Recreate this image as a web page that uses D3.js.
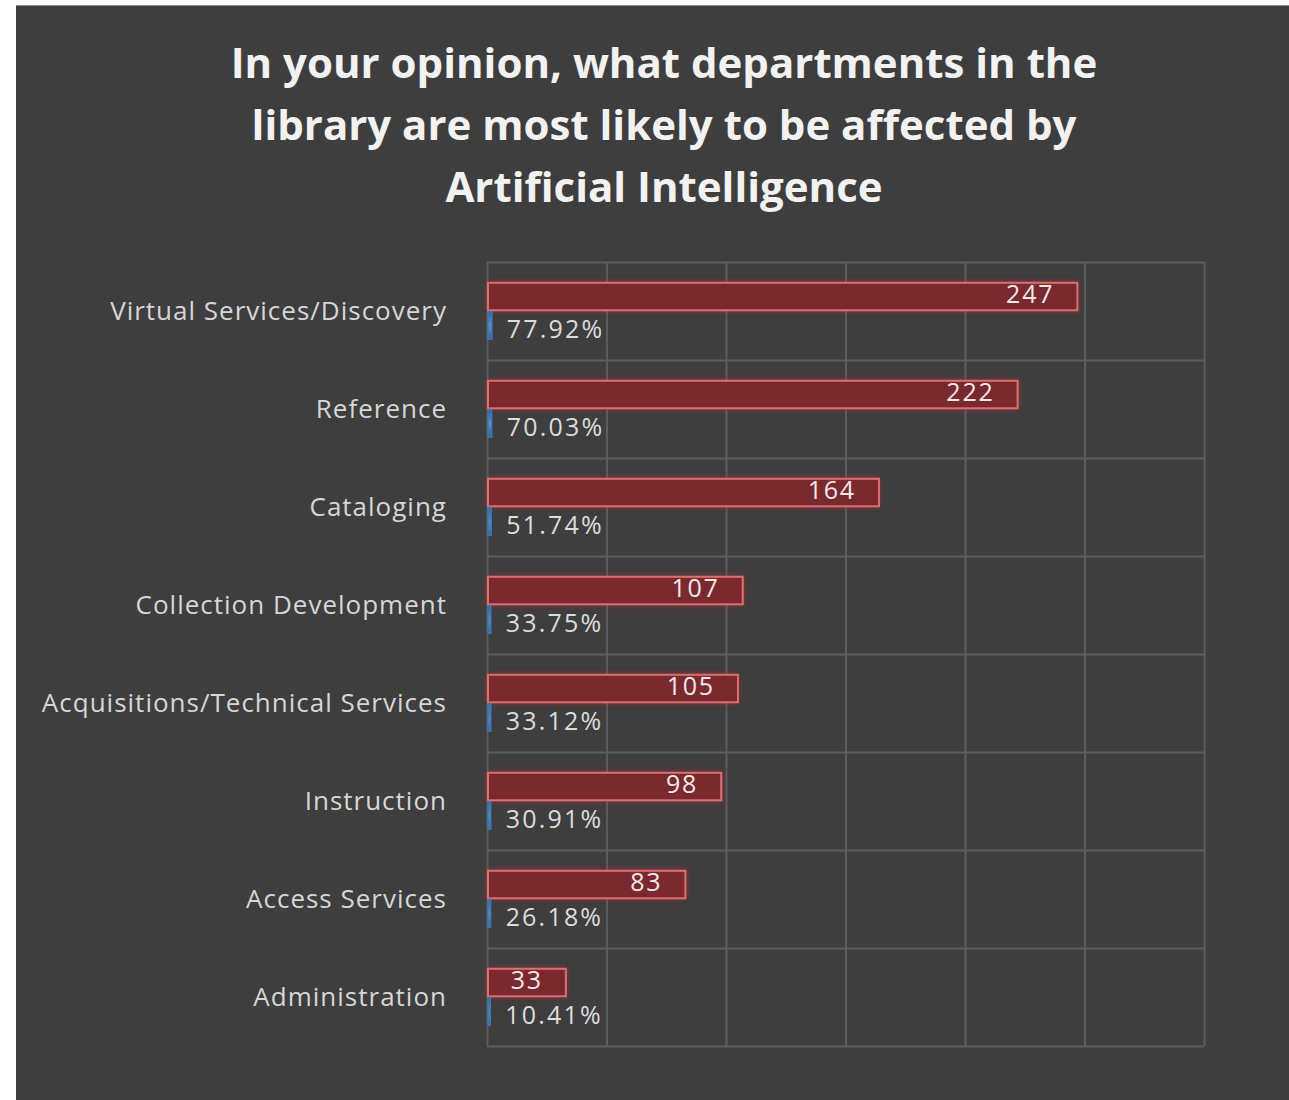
<!DOCTYPE html>
<html>
<head>
<meta charset="utf-8">
<script src="https://cdn.jsdelivr.net/npm/d3@7"></script>
<style>
  html, body { margin: 0; padding: 0; background: #ffffff; }
  svg { display: block; }
</style>
</head>
<body>
<svg id="chart" width="1289" height="1100"></svg>
<script>
// Survey responses: departments most likely to be affected by AI
const departments = [
  "Virtual Services/Discovery",
  "Reference",
  "Cataloging",
  "Collection Development",
  "Acquisitions/Technical Services",
  "Instruction",
  "Access Services",
  "Administration"
];
const responseCounts = [247, 222, 164, 107, 105, 98, 83, 33];
const responsePercents = [77.92, 70.03, 51.74, 33.75, 33.12, 30.91, 26.18, 10.41];
const axisTicks = [0, 50, 100, 150, 200, 250, 300];
const titleLines = [
  "In your opinion, what departments in the",
  "library are most likely to be affected by",
  "Artificial Intelligence"
];

const svg = d3.select("#chart");
const W = 1289, H = 1100;
const FONT = "'Open Sans', sans-serif";

// dark panel
svg.append("rect").attr("x", 16).attr("y", 5).attr("width", W - 16).attr("height", H - 5)
  .attr("fill", "#3e3e3e");
svg.append("line").attr("x1", 16).attr("x2", W).attr("y1", 5.5).attr("y2", 5.5)
  .attr("stroke", "#8a8a8a").attr("stroke-width", 1);

const defs = svg.append("defs");
const glow = defs.append("filter").attr("id", "glow")
  .attr("x", "-10%").attr("y", "-60%").attr("width", "120%").attr("height", "220%");
glow.append("feGaussianBlur").attr("in", "SourceAlpha").attr("stdDeviation", 3).attr("result", "b");
glow.append("feFlood").attr("flood-color", "#c0282c").attr("flood-opacity", 0.55);
glow.append("feComposite").attr("in2", "b").attr("operator", "in").attr("result", "g");
const fm = glow.append("feMerge");
fm.append("feMergeNode").attr("in", "g");
fm.append("feMergeNode").attr("in", "SourceGraphic");

const blueGrad = defs.append("linearGradient").attr("id", "blueGrad")
  .attr("x1", 0).attr("x2", 0).attr("y1", 0).attr("y2", 1);
blueGrad.append("stop").attr("offset", "0%").attr("stop-color", "#2f5f95");
blueGrad.append("stop").attr("offset", "50%").attr("stop-color", "#5b93cf");
blueGrad.append("stop").attr("offset", "100%").attr("stop-color", "#2f5f95");

// title
svg.append("g").selectAll("text").data(titleLines).join("text")
  .attr("x", 664).attr("y", (d, i) => 78 + i * 62)
  .attr("text-anchor", "middle")
  .attr("font-family", FONT)
  .attr("font-weight", 700).attr("font-size", 42)
  .attr("fill", "#f2f2f2")
  .text(d => d);

// plot area
const plot = { left: 487, right: 1204, top: 262, bottom: 1046 };
const x = d3.scaleLinear().domain([0, 300]).range([plot.left, plot.right]);
const y = d3.scaleBand().domain(departments).range([plot.top, plot.bottom]);

// grid
const grid = svg.append("g");
grid.selectAll("line.v").data(axisTicks).join("line")
  .attr("class", "v")
  .attr("x1", d => x(d) + 0.5).attr("x2", d => x(d) + 0.5)
  .attr("y1", plot.top).attr("y2", plot.bottom)
  .attr("stroke", "#5c5c5c").attr("stroke-width", 2);
const bounds = departments.map(d => y(d)).concat([plot.bottom]);
grid.selectAll("line.h").data(bounds).join("line")
  .attr("class", "h")
  .attr("x1", plot.left).attr("x2", plot.right)
  .attr("y1", d => d + 0.5).attr("y2", d => d + 0.5)
  .attr("stroke", "#5c5c5c").attr("stroke-width", 2);

// inner band for the two series
const series = d3.scaleBand().domain(["count", "pct"])
  .range([0, y.bandwidth()]).paddingOuter(0.72).paddingInner(0.05);

const rows = departments.map((d, i) => ({ dept: d, count: responseCounts[i], pct: responsePercents[i] }));

// category labels
svg.append("g").selectAll("text").data(rows).join("text")
  .attr("x", 447).attr("y", d => y(d.dept) + y.bandwidth() / 2)
  .attr("dy", "0.35em")
  .attr("text-anchor", "end")
  .attr("font-family", FONT)
  .attr("font-size", 26)
  .attr("letter-spacing", 1)
  .attr("fill", "#d6d6d6")
  .text(d => d.dept);

// count bars
svg.append("g").selectAll("rect").data(rows).join("rect")
  .attr("x", x(0) + 1)
  .attr("y", d => y(d.dept) + series("count"))
  .attr("width", d => x(d.count) - x(0) - 1)
  .attr("height", series.bandwidth())
  .attr("fill", "#7a2a2d")
  .attr("stroke", "#de6e70").attr("stroke-width", 2)
  .attr("filter", "url(#glow)");

// count labels (inside end)
svg.append("g").selectAll("text").data(rows).join("text")
  .attr("x", d => x(d.count) - 23)
  .attr("y", d => y(d.dept) + series("count") + series.bandwidth() / 2 - 2)
  .attr("dy", "0.35em")
  .attr("text-anchor", "end")
  .attr("font-family", FONT)
  .attr("font-size", 25)
  .attr("letter-spacing", 1.8)
  .attr("fill", "#f4e8e8")
  .text(d => d.count);

// percentage bars (fraction of respondents on the same axis)
svg.append("g").selectAll("rect").data(rows).join("rect")
  .attr("x", x(0) + 1)
  .attr("y", d => y(d.dept) + series("pct"))
  .attr("width", d => Math.max(x(d.pct / 100) - x(0), 0) + 2)
  .attr("height", series.bandwidth())
  .attr("fill", "url(#blueGrad)")
  .attr("stroke", "#3f77b4").attr("stroke-width", 1.5);

// percentage labels (outside end)
svg.append("g").selectAll("text").data(rows).join("text")
  .attr("x", d => x(d.pct / 100) + 18)
  .attr("y", d => y(d.dept) + series("pct") + series.bandwidth() / 2 + 4)
  .attr("dy", "0.35em")
  .attr("text-anchor", "start")
  .attr("font-family", FONT)
  .attr("font-size", 25)
  .attr("letter-spacing", 2.2)
  .attr("fill", "#dcdcdc")
  .text(d => d.pct.toFixed(2) + "%");
</script>
</body>
</html>
